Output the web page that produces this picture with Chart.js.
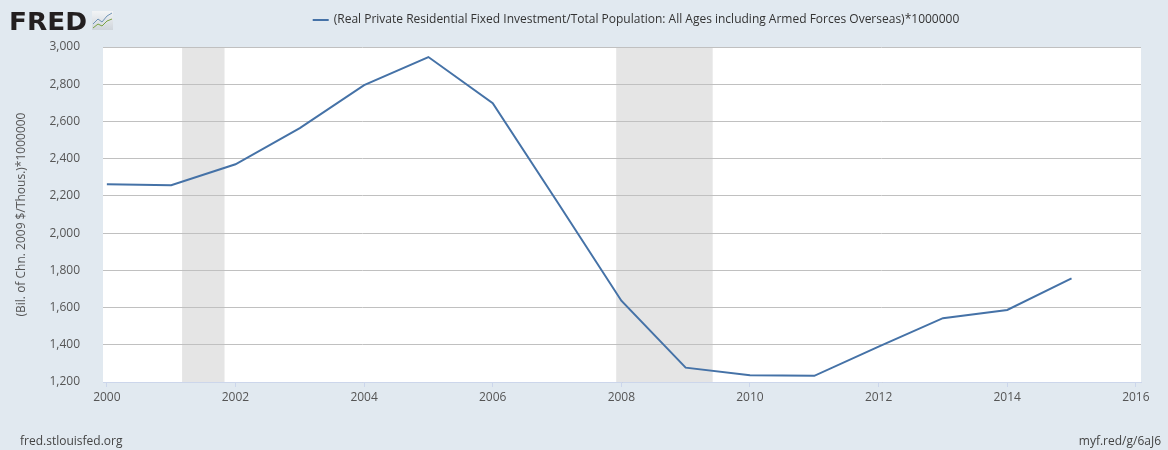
<!DOCTYPE html>
<html>
<head>
<meta charset="utf-8">
<script src="https://cdn.jsdelivr.net/npm/chart.js@4"></script>
<style>
html,body{margin:0;padding:0;background:#e1e9f0;}
#wrap{width:1168px;height:450px;position:relative;}
</style>
</head>
<body>
<div id="wrap"><canvas id="c" width="1168" height="450"></canvas></div>
<script>
const years = [2000,2001,2002,2003,2004,2005,2006,2007,2008,2009,2010,2011,2012,2013,2014,2015];
const values = [2262,2257,2370,2564,2795,2946,2698,2170,1637,1277,1236,1233,1390,1543,1587,1757];
const xTicks = [2000,2002,2004,2006,2008,2010,2012,2014,2016];
const yTicks = [1200,1400,1600,1800,2000,2200,2400,2600,2800,3000];
const recessionStarts = [2001.17, 2007.92];
const recessionEnds = [2001.83, 2009.42];
const seriesLabel = "(Real Private Residential Fixed Investment/Total Population: All Ages including Armed Forces Overseas)*1000000";
const yTitle = "(Bil. of Chn. 2009 $/Thous.)*1000000";
const footLeft = "fred.stlouisfed.org";
const footRight = "myf.red/g/6aJ6";

const FONT = "'Open Sans', 'DejaVu Sans', sans-serif";

const bgPlugin = {
  id: 'bg',
  beforeDraw(chart) {
    const {ctx, chartArea: a} = chart;
    ctx.save();
    ctx.fillStyle = '#e1e9f0';
    ctx.fillRect(0, 0, chart.width, chart.height);
    ctx.fillStyle = '#ffffff';
    ctx.fillRect(a.left, a.top, a.right - a.left, a.bottom - a.top);
    const xs = chart.scales.x;
    ctx.fillStyle = '#e5e5e5';
    for (let i = 0; i < recessionStarts.length; i++) {
      const x0 = xs.getPixelForValue(recessionStarts[i]);
      const x1 = xs.getPixelForValue(recessionEnds[i]);
      ctx.fillRect(x0, a.top, x1 - x0, a.bottom - a.top);
    }
    ctx.restore();
  },
  afterDraw(chart) {
    const {ctx, chartArea: a} = chart;
    ctx.save();
    // FRED logo text
    ctx.fillStyle = '#231f20';
    ctx.font = "bold 25px 'DejaVu Sans', sans-serif";
    ctx.textBaseline = 'alphabetic';
    ctx.textAlign = 'left';
    const fw = ctx.measureText('FRED').width;
    ctx.save();
    ctx.translate(9, 30);
    ctx.scale(78 / fw, 1);
    ctx.fillText('FRED', 0, 0);
    ctx.restore();
    // small icon
    const ix = 92, iy = 11, iw = 21, ih = 19;
    const g = ctx.createLinearGradient(ix, iy, ix, iy + ih);
    g.addColorStop(0, '#f2f4f6'); g.addColorStop(1, '#cfd5db');
    ctx.fillStyle = g;
    ctx.fillRect(ix, iy, iw, ih);
    ctx.lineWidth = 1;
    ctx.strokeStyle = '#6f93b5';
    ctx.beginPath();
    ctx.moveTo(ix + 1, iy + 13); ctx.lineTo(ix + 6, iy + 8); ctx.lineTo(ix + 10, iy + 11); ctx.lineTo(ix + 15, iy + 5); ctx.lineTo(ix + 20, iy + 2);
    ctx.stroke();
    ctx.strokeStyle = '#7aa340';
    ctx.beginPath();
    ctx.moveTo(ix + 1, iy + 17); ctx.lineTo(ix + 6, iy + 13); ctx.lineTo(ix + 10, iy + 15); ctx.lineTo(ix + 15, iy + 10); ctx.lineTo(ix + 20, iy + 8);
    ctx.stroke();
    // legend
    ctx.font = "12px " + FONT;
    ctx.fillStyle = '#333333';
    ctx.textBaseline = 'middle';
    const tw = ctx.measureText(seriesLabel).width;
    const lx = 636 - (tw + 21) / 2;
    ctx.strokeStyle = '#4572a7';
    ctx.lineWidth = 2;
    ctx.beginPath();
    ctx.moveTo(lx, 20); ctx.lineTo(lx + 16, 20);
    ctx.stroke();
    ctx.fillText(seriesLabel, lx + 21, 20);
    // y title
    ctx.save();
    ctx.translate(22, (a.top + a.bottom) / 2);
    ctx.rotate(-Math.PI / 2);
    ctx.textAlign = 'center';
    ctx.fillStyle = '#555555';
    ctx.fillText(yTitle, 0, 0);
    ctx.restore();
    // footers
    ctx.fillStyle = '#444444';
    ctx.textBaseline = 'alphabetic';
    ctx.textAlign = 'left';
    ctx.font = "12px " + FONT;
    ctx.fillText(footLeft, 20, 445);
    ctx.textAlign = 'right';
    ctx.fillText(footRight, 1161, 445);
    ctx.restore();
  }
};

new Chart(document.getElementById('c'), {
  type: 'line',
  data: {
    datasets: [{
      label: seriesLabel,
      data: years.map((y, i) => ({x: y, y: values[i]})),
      borderColor: '#4572a7',
      backgroundColor: '#4572a7',
      borderWidth: 2,
      pointRadius: 0,
      tension: 0,
      fill: false
    }]
  },
  options: {
    responsive: false,
    animation: false,
    layout: {padding: {left: 0, right: 27, top: 47, bottom: 0}},
    plugins: {legend: {display: false}, tooltip: {enabled: false}},
    scales: {
      x: {
        type: 'linear',
        min: 1999.94,
        max: 2016.08,
        afterBuildTicks(s) { s.ticks = xTicks.map(v => ({value: v})); },
        afterFit(s) { s.height = 68; },
        border: {display: true, color: '#ccd6eb', width: 1},
        grid: {display: true, drawOnChartArea: false, drawTicks: true, tickLength: 5, color: '#ccd6eb'},
        ticks: {padding: 3, color: '#555555', font: {family: FONT, size: 12}, maxRotation: 0, callback: v => String(v)}
      },
      y: {
        min: 1200,
        max: 3000,
        afterBuildTicks(s) { s.ticks = yTicks.map(v => ({value: v})); },
        afterFit(s) { s.width = 103; },
        border: {display: false},
        grid: {color: '#c0c0c0', drawTicks: false, lineWidth: 1},
        ticks: {padding: 23, color: '#555555', font: {family: FONT, size: 12}, callback: v => v.toLocaleString('en-US')}
      }
    }
  },
  plugins: [bgPlugin]
});
</script>
</body>
</html>
